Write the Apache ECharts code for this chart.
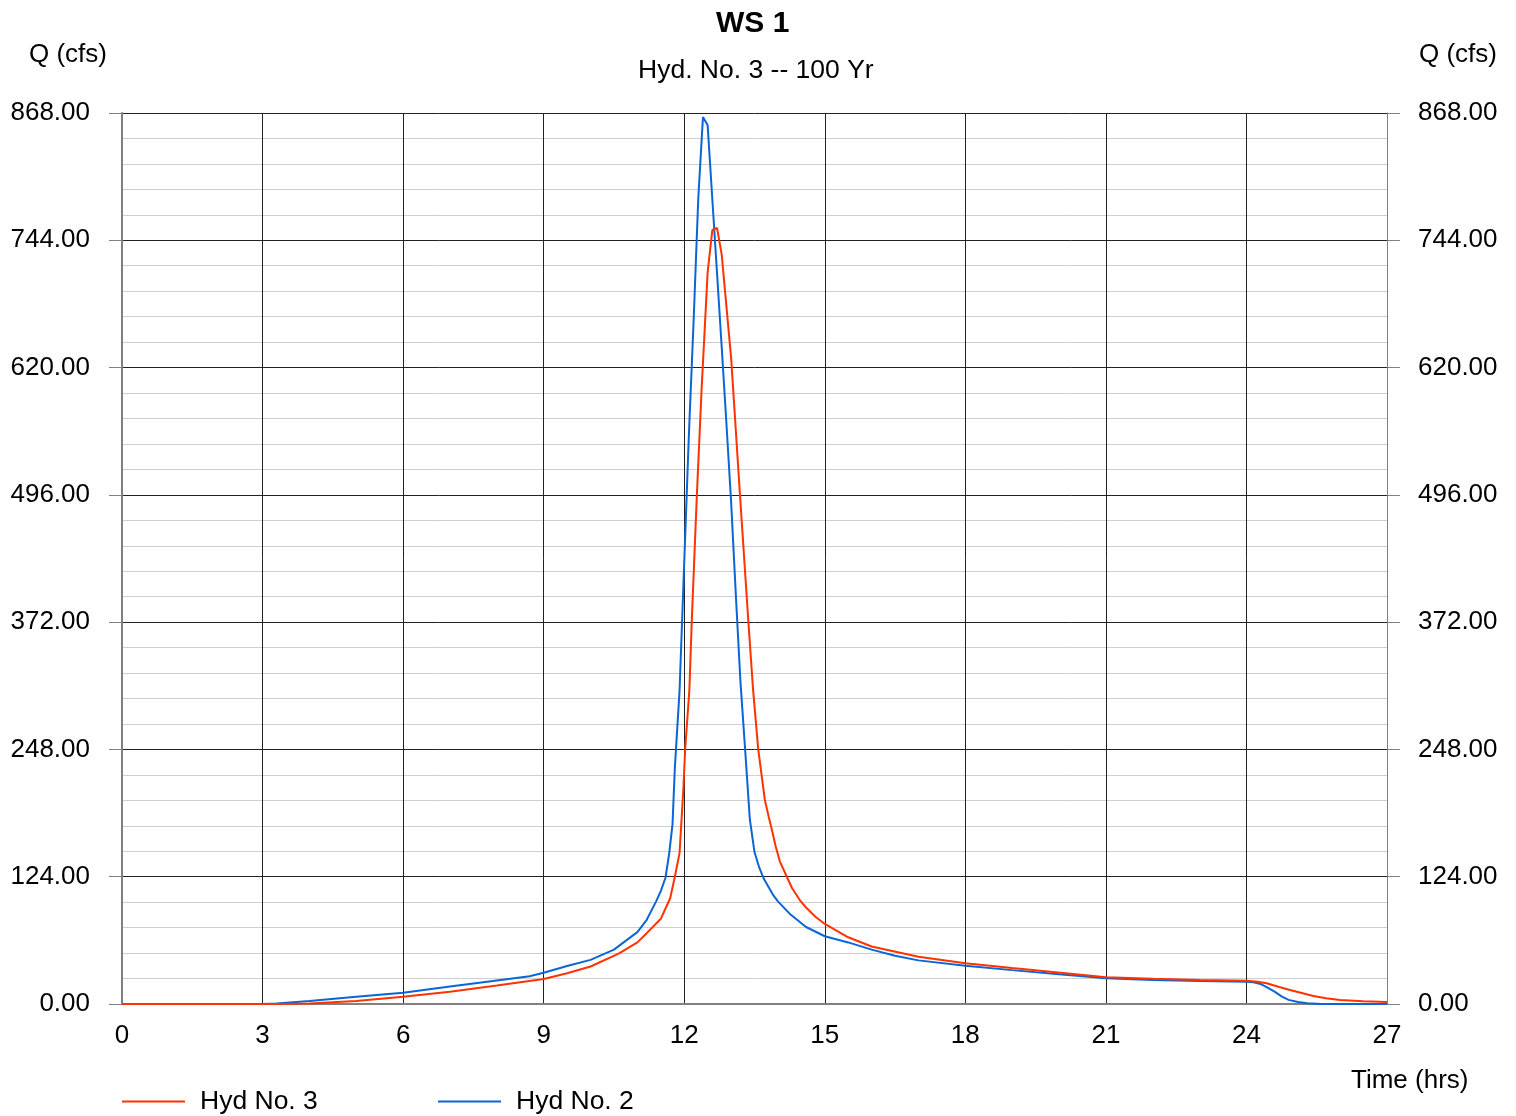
<!DOCTYPE html>
<html>
<head>
<meta charset="utf-8">
<script src="https://cdn.jsdelivr.net/npm/echarts@6/dist/echarts.min.js"></script>
<style>html,body{margin:0;padding:0;background:#fff;}#c{width:1516px;height:1116px;}</style>
</head>
<body>
<div id="c"></div>
<script>
// Hyd No. 2 (blue)
const hyd2Time = [0, 3, 3.3, 4, 5, 6, 7, 8, 8.7, 9, 9.5, 10, 10.5, 11, 11.2, 11.4, 11.5, 11.6, 11.68, 11.75, 11.8, 11.9, 12.0, 12.1, 12.2, 12.3, 12.4, 12.5, 12.6, 12.7, 12.8, 12.9, 13.0, 13.1, 13.2, 13.3, 13.4, 13.5, 13.6, 13.7, 13.8, 13.9, 14.0, 14.25, 14.6, 15, 15.5, 16, 16.5, 17, 18, 19, 20, 21, 22, 23, 24, 24.15, 24.3, 24.45, 24.6, 24.75, 24.9, 25.1, 25.3, 25.6, 27];
const hyd2Flow = [0, 0, 0.5, 3, 7, 11, 17, 23, 27, 30.5, 37, 43, 53, 70, 82, 100, 110, 123, 147, 175, 230, 305, 430, 555, 665, 785, 864, 856, 784, 712, 640, 566, 490, 400, 314, 248, 180, 148, 133, 122, 114, 106, 100, 88, 75, 66, 60, 53, 47, 42.5, 37.3, 33, 29, 25, 23.5, 22.5, 21.7, 21.2, 19.5, 16, 12, 7.5, 4, 2, 0.7, 0, 0];
// Hyd No. 3 (red)
const hyd3Time = [0, 3.4, 4, 5, 6, 7, 8, 9, 9.5, 10, 10.6, 11, 11.2, 11.5, 11.7, 11.8, 11.9, 11.98, 12.02, 12.11, 12.16, 12.27, 12.37, 12.5, 12.6, 12.7, 12.8, 13.0, 13.06, 13.19, 13.37, 13.47, 13.58, 13.72, 13.8, 13.87, 13.95, 14.04, 14.19, 14.3, 14.47, 14.6, 14.8, 15, 15.5, 16, 17, 18, 19, 19.6, 21, 22, 23, 24, 24.2, 24.43, 24.7, 24.93, 25.2, 25.43, 25.7, 26, 26.5, 27];
const hyd3Flow = [0, 0, 0.5, 3, 7, 12, 18, 24.4, 30, 36.5, 49, 60, 69, 83, 103, 124, 147, 208, 248, 306, 372, 496, 598, 713, 754, 756, 730, 630, 588, 496, 372, 306, 248, 199, 183, 170, 154, 139, 124, 113, 101, 94, 85, 78, 65, 56, 46, 39.6, 35, 32.5, 26, 24.5, 23.5, 22.7, 22, 20.2, 16.5, 13.6, 10.5, 7.8, 5.5, 3.9, 2.7, 2];

const xMin = 0, xMax = 27, xStep = 3;
const yMin = 0, yMax = 868, yStep = 124;

const pair = (ts, vs) => ts.map((t, i) => [t, vs[i]]);
const FONT = 'Liberation Sans, Arial, sans-serif';
const RED = '#ff3300', BLUE = '#0a66d6';

const chart = echarts.init(document.getElementById('c'), null, {renderer: 'canvas'});
chart.setOption({
  animation: false,
  backgroundColor: '#fff',
  textStyle: {fontFamily: FONT, color: '#000'},
  title: [
    {text: 'WS 1', left: 711, top: 4, textStyle: {fontFamily: FONT, fontSize: 30, fontWeight: 'bold', color: '#000'}},
    {text: 'Hyd. No. 3 -- 100 Yr', left: 633, top: 52, textStyle: {fontFamily: FONT, fontSize: 26.5, fontWeight: 'normal', color: '#000'}},
    {text: 'Q (cfs)', left: 24, top: 37, textStyle: {fontFamily: FONT, fontSize: 26, fontWeight: 'normal', color: '#000'}},
    {text: 'Q (cfs)', right: 14, top: 37, textStyle: {fontFamily: FONT, fontSize: 26, fontWeight: 'normal', color: '#000'}},
    {text: 'Time (hrs)', left: 1346, top: 1063, textStyle: {fontFamily: FONT, fontSize: 26, fontWeight: 'normal', color: '#000'}}
  ],
  legend: [
    {data: ['Hyd No. 3'], left: 117, top: 1083, icon: 'rect', itemWidth: 63, itemHeight: 2,
     textStyle: {fontFamily: FONT, fontSize: 26.5, color: '#000', padding: [0, 0, 0, 10]}},
    {data: ['Hyd No. 2'], left: 433, top: 1083, icon: 'rect', itemWidth: 63, itemHeight: 2,
     textStyle: {fontFamily: FONT, fontSize: 26.5, color: '#000', padding: [0, 0, 0, 10]}}
  ],
  grid: {left: 122, right: 129, top: 113, bottom: 112, containLabel: false},
  xAxis: {
    type: 'value', min: xMin, max: xMax, interval: xStep,
    axisLine: {show: true, onZero: false, lineStyle: {color: '#808080', width: 2}},
    axisTick: {show: false},
    axisLabel: {fontFamily: FONT, fontSize: 26, color: '#000', margin: 19},
    splitLine: {show: true, lineStyle: {color: '#222', width: 1}}
  },
  yAxis: [
    {
      type: 'value', min: yMin, max: yMax, interval: yStep, position: 'left',
      axisLine: {show: true, lineStyle: {color: '#808080', width: 2}},
      axisTick: {show: true, length: 13, lineStyle: {color: '#808080', width: 1}},
      axisLabel: {fontFamily: FONT, fontSize: 26, color: '#000', margin: 32, formatter: v => v.toFixed(2)},
      splitLine: {show: true, lineStyle: {color: '#222', width: 1}},
      minorTick: {show: false, splitNumber: 5},
      minorSplitLine: {show: true, lineStyle: {color: '#cfcfcf', width: 1}}
    },
    {
      type: 'value', min: yMin, max: yMax, interval: yStep, position: 'right',
      axisLine: {show: true, lineStyle: {color: '#808080', width: 1}},
      axisTick: {show: true, length: 13, lineStyle: {color: '#808080', width: 1}},
      axisLabel: {fontFamily: FONT, fontSize: 26, color: '#000', margin: 31, formatter: v => v.toFixed(2)},
      splitLine: {show: false}
    }
  ],
  series: [
    {name: 'Hyd No. 2', type: 'line', data: pair(hyd2Time, hyd2Flow), showSymbol: false, symbol: 'none',
     lineStyle: {color: BLUE, width: 2}, itemStyle: {color: BLUE}, z: 3},
    {name: 'Hyd No. 3', type: 'line', data: pair(hyd3Time, hyd3Flow), showSymbol: false, symbol: 'none',
     lineStyle: {color: RED, width: 2}, itemStyle: {color: RED}, z: 4}
  ]
});
</script>
</body>
</html>
